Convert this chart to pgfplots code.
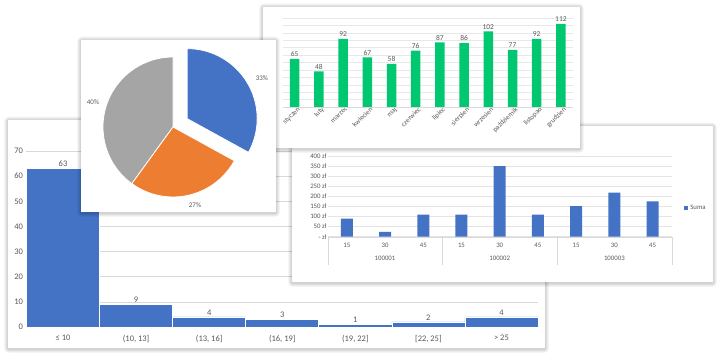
\documentclass[border=0pt]{standalone}
\usepackage{pgfplots}
\pgfplotsset{compat=1.18}
\pgfplotsset{/pgf/number format/assume math mode=true}
\usepackage{fontspec}
\setmainfont{Carlito}
\definecolor{xblue}{HTML}{4472C4}
\definecolor{xgreen}{HTML}{00C770}
\definecolor{xorange}{HTML}{ED7D31}
\definecolor{xgray}{HTML}{A5A5A5}
\definecolor{txt}{HTML}{595959}
\definecolor{gridc}{HTML}{D9D9D9}
\newcommand{\card}[4]{%
  \foreach \i in {1,...,5}{%
    \fill[black,opacity=0.035,rounded corners=\i pt] (#1-\i*0.8,357-#4-\i*0.8-1) rectangle (#3+\i*0.8,357-#2+\i*0.8-0.5);
  }%
  \fill[white] (#1,357-#4) rectangle (#3,357-#2);
}
\begin{document}
\begin{tikzpicture}[x=1pt,y=1pt]
\useasboundingbox (0,0) rectangle (718,357);
\fill[white] (0,0) rectangle (718,357);
% ---------------- histogram card
\card{8}{120}{545}{348}
\begin{axis}[
  scale only axis, width=511.5pt, height=176pt,
  at={(26.5pt,30pt)}, anchor=south west,
  xmin=-0.5, xmax=6.5, ymin=0, ymax=70,
  ybar, bar width=1,
  ytick={0,10,...,70}, xtick={0,...,6},
  xticklabels={≤ 10,{(10, 13]},{(13, 16]},{(16, 19]},{(19, 22]},{[22, 25]},{> 25}},
  ymajorgrids, grid style={gridc, line width=0.6pt},
  axis line style={draw=none}, major tick length=0,
  tick label style={font=\fontsize{8.5}{10}\selectfont, text=txt},
  xticklabel style={yshift=-4.5pt},
  nodes near coords, nodes near coords style={font=\fontsize{8.5}{10}\selectfont, text=txt, inner sep=1.5pt},
  clip=false,
]
\addplot[fill=xblue, draw=white, line width=0.7pt] coordinates {(0,63) (1,9) (2,4) (3,3) (4,1) (5,2) (6,4)};
\end{axis}
% ---------------- zloty card
\card{292}{126}{713}{282}
\begin{axis}[
  scale only axis, width=344pt, height=80.7pt,
  at={(327.7pt,120.3pt)}, anchor=south west,
  xmin=-0.5, xmax=8.5, ymin=0, ymax=400,
  ybar, bar width=12pt,
  ytick={0,50,...,400},
  yticklabels={- zł,50 zł,100 zł,150 zł,200 zł,250 zł,300 zł,350 zł,400 zł},
  xtick={0,...,8}, xticklabels={15,30,45,15,30,45,15,30,45},
  extra x ticks={1,4,7}, extra x tick labels={100001,100002,100003},
  extra x tick style={xticklabel style={yshift=-13pt}, grid=none},
  ymajorgrids, grid style={gridc!70, line width=0.5pt},
  axis line style={draw=none}, major tick length=0,
  tick label style={font=\fontsize{6.8}{8}\selectfont, text=txt},
  yticklabel style={inner sep=1pt},
  xticklabel style={yshift=-3pt},
  legend style={at={(rel axis cs:1.035,0.356)}, anchor=west, draw=none, fill=none,
    font=\fontsize{6.8}{8}\selectfont, text=txt, inner sep=0pt},
  legend image code/.code={\fill[xblue] (0pt,-2.2pt) rectangle (4.4pt,2.2pt);},
  clip=false,
]
\addplot[fill=xblue, draw=none] coordinates {(0,90) (1,24) (2,110) (3,110) (4,350) (5,110) (6,152) (7,218) (8,175)};
\addlegendentry{Suma}
\draw[gridc] (axis cs:-0.5,0) -- (axis cs:8.5,0);
\draw[gridc] (axis cs:-0.5,0) -- ++(0pt,-28pt);
\draw[gridc] (axis cs:2.5,0) -- ++(0pt,-28pt);
\draw[gridc] (axis cs:5.5,0) -- ++(0pt,-28pt);
\draw[gridc] (axis cs:8.5,0) -- ++(0pt,-28pt);
\end{axis}
% ---------------- green card
\card{263}{7}{580}{148}
\begin{axis}[
  scale only axis, width=290.4pt, height=89pt,
  at={(282.6pt,250pt)}, anchor=south west,
  xmin=-0.5, xmax=11.5, ymin=0, ymax=120,
  ybar, bar width=9.5pt,
  ytick={0,10,...,120}, yticklabels={},
  xtick={0,...,11},
  xticklabels={styczeń,luty,marzec,kwiecień,maj,czerwiec,lipiec,sierpień,wrzesień,październik,listopad,grudzień},
  xticklabel style={rotate=45, anchor=north east, font=\fontsize{7}{8}\selectfont, text=txt, inner sep=1pt, xshift=3pt},
  ymajorgrids, grid style={gridc!60, line width=0.4pt},
  axis line style={draw=none}, major tick length=0,
  nodes near coords, nodes near coords style={font=\fontsize{7.5}{9}\selectfont, text=txt, inner sep=2pt},
  clip=false,
]
\addplot[fill=xgreen, draw=none] coordinates {(0,65) (1,48) (2,92) (3,67) (4,58) (5,76) (6,87) (7,86) (8,102) (9,77) (10,92) (11,112)};
\draw[gridc] (axis cs:-0.5,0) -- (axis cs:11.5,0);
\end{axis}
% ---------------- pie card
\card{81}{40}{276}{212}
\begin{axis}[
  hide axis, scale only axis, width=140pt, height=140pt,
  at={(103pt,160pt)}, anchor=south west,
  xmin=-1, xmax=1, ymin=-1, ymax=1, clip=false,
]
\def\va{33}\def\vb{27}\def\vc{40}
\pgfmathsetmacro{\aA}{90}
\pgfmathsetmacro{\aB}{90-3.6*\va}
\pgfmathsetmacro{\aC}{\aB-3.6*\vb}
\pgfmathsetmacro{\aD}{\aC-3.6*\vc}
\pgfmathsetmacro{\mA}{(\aA+\aB)/2}
\fill[xgray, draw=white, line width=0.8pt] (axis cs:0,0) -- (axis cs:{cos(\aC)},{sin(\aC)}) arc[start angle=\aC, end angle=\aD, radius=70pt] -- cycle;
\fill[xorange, draw=white, line width=0.8pt] (axis cs:0,0) -- (axis cs:{cos(\aB)},{sin(\aB)}) arc[start angle=\aB, end angle=\aC, radius=70pt] -- cycle;
\fill[xblue, draw=white, line width=0.8pt] (axis cs:{0.235*cos(\mA)},{0.235*sin(\mA)}) -- (axis cs:{0.235*cos(\mA)+cos(\aA)},{0.235*sin(\mA)+sin(\aA)}) arc[start angle=\aA, end angle=\aB, radius=70pt] -- cycle;
\node[font=\fontsize{7}{8}\selectfont, text=txt] at (axis cs:1.27,0.70) {33\%};
\node[font=\fontsize{7}{8}\selectfont, text=txt] at (axis cs:0.314,-1.114) {27\%};
\node[font=\fontsize{7}{8}\selectfont, text=txt] at (axis cs:-1.143,0.357) {40\%};
\end{axis}
\end{tikzpicture}
\end{document}
